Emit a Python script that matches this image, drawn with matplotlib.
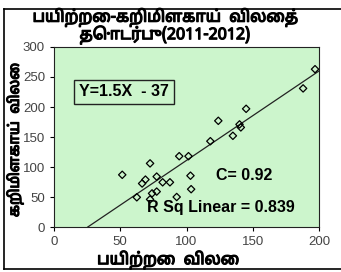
import matplotlib
matplotlib.use("Agg")
import matplotlib.pyplot as plt
import matplotlib.patheffects as pe
from matplotlib import font_manager
from matplotlib.lines import Line2D
from fontTools.ttLib import TTFont

# data
bean_price = [197, 188, 145, 124, 140, 141, 135, 118, 94.5, 101.5, 72.5, 51.5,
              103, 77.5, 69, 66.5, 82, 87.5, 103.5, 77.5, 74, 62.5, 92.6, 72.5]
chilli_price = [263, 231, 197, 177, 171, 166, 152, 143, 118, 118, 106, 87,
                85.5, 84, 79, 72.5, 74.5, 74.5, 63, 59, 56, 49.5, 50, 46]
fit_slope = 1.49
fit_intercept = -38
x_ticks = [0, 50, 100, 150, 200]
y_ticks = [0, 50, 100, 150, 200, 250, 300]

title_lines = ["பயிற்றை-கறிமிளகாய்  விலைத்", "தொடர்பு(2011-2012)"]
x_label = "பயிற்றை  விலை"
y_label = "கறிமிளகாய்  விலை"


def tamil_font():
    found = set()
    for entry in font_manager.fontManager.ttflist:
        try:
            cmap = TTFont(entry.fname, fontNumber=0, lazy=True).getBestCmap()
        except Exception:
            continue
        if cmap and 0x0BAA in cmap:
            found.add(entry.name)
    for pref in ["Noto Sans Tamil", "Lohit Tamil", "Mukta Malar", "Meera Inimai"]:
        if pref in found:
            return pref
    return sorted(found)[0] if found else "DejaVu Sans"


family = [tamil_font(), "Liberation Sans", "DejaVu Sans"]
latin = ["Liberation Sans", "DejaVu Sans"]
heavy = [pe.withStroke(linewidth=0.9, foreground="black")]

fig = plt.figure(figsize=(3.41, 2.72), dpi=100)
# frame round the chart: left, top and bottom edges only
for xs_, ys_ in [((3.5, 3.5), (3, 263)), ((3.5, 341), (263, 263)), ((3.5, 341), (3, 3))]:
    fig.lines.append(Line2D([v / 341 for v in xs_], [v / 272 for v in ys_],
                            transform=fig.transFigure, color="black", linewidth=1.2))

ax = fig.add_axes([54 / 341, 45 / 272, 265 / 341, 180 / 272])
ax.set_facecolor("#ccf5cc")

ax.scatter(bean_price, chilli_price, marker="D", s=14, facecolors="none",
           edgecolors="black", linewidths=0.9, zorder=3)
xs = [-fit_intercept / fit_slope, 200]
ax.plot(xs, [fit_slope * x + fit_intercept for x in xs], color="#222222", linewidth=0.9)

ax.set_xlim(0, 200)
ax.set_ylim(0, 300)
ax.set_xticks(x_ticks)
ax.set_yticks(y_ticks)
ax.tick_params(labelsize=9.5, labelcolor="#444444", length=3, direction="out")
for lab in ax.get_xticklabels() + ax.get_yticklabels():
    lab.set_family(latin)
for s in ax.spines.values():
    s.set_color("#222222")

ax.text(19, 225, "Y=1.5X  - 37", fontsize=11.5, fontweight="bold", va="center", family=latin,
        bbox=dict(boxstyle="square,pad=0.3", facecolor="none", edgecolor="#222222", linewidth=1))
ax.text(122, 86, "C= 0.92", fontsize=11.5, fontweight="bold", va="center", family=latin)
ax.text(70, 33, "R Sq Linear = 0.839", fontsize=11.5, fontweight="bold", va="center", family=latin)

for line, y_px in zip(title_lines, [17.5, 35]):
    fig.text(165 / 341, 1 - y_px / 272, line, ha="center", va="center", fontsize=11.5,
             fontweight="bold", family=family, path_effects=heavy)
fig.text(168 / 341, 1 - 260 / 272, x_label, ha="center", va="center", fontsize=11.5,
         fontweight="bold", family=family, path_effects=heavy)
fig.text(15 / 341, 1 - 140 / 272, y_label, ha="center", va="center", fontsize=10.5, rotation=90,
         fontweight="bold", family=family, path_effects=heavy)

fig.savefig("out.png", dpi=100)
